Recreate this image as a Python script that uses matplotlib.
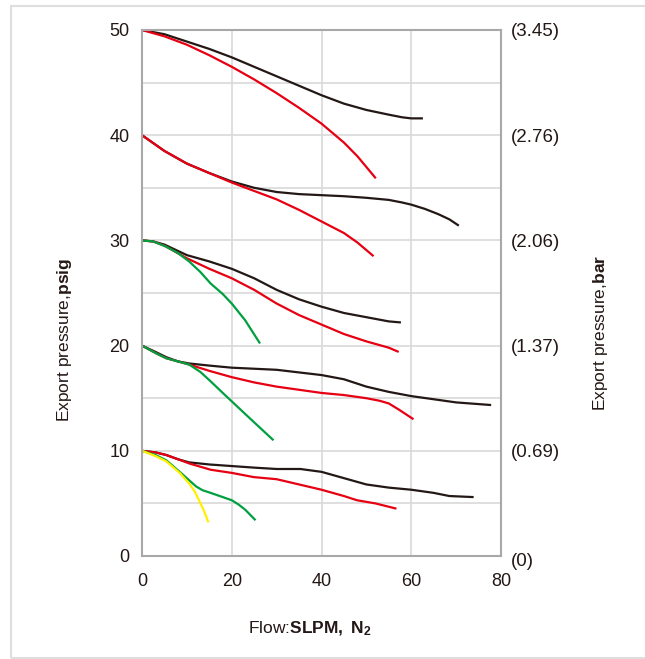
import matplotlib
matplotlib.use("Agg")
import matplotlib.pyplot as plt
from matplotlib.patches import Rectangle
from matplotlib.transforms import ScaledTranslation

plt.rcParams['font.family'] = ['Liberation Sans', 'DejaVu Sans']
plt.rcParams['mathtext.fontset'] = 'custom'
plt.rcParams['mathtext.rm'] = 'Liberation Sans'
plt.rcParams['mathtext.bf'] = 'Liberation Sans:bold'
plt.rcParams['mathtext.it'] = 'Liberation Sans:italic'

# ---- data (flow SLPM vs export pressure psig) ----
b50_x = [0, 5, 10, 15, 20, 25, 30, 35, 40, 45, 50, 55, 58, 60, 62.6]
b50_y = [50, 49.6, 48.9, 48.2, 47.4, 46.5, 45.6, 44.7, 43.8, 43.0, 42.4, 41.95, 41.7, 41.6, 41.6]
r50_x = [0, 5, 10, 15, 20, 25, 30, 35, 40, 45, 48, 52.1]
r50_y = [50, 49.4, 48.6, 47.6, 46.5, 45.3, 44.0, 42.6, 41.1, 39.3, 38.0, 35.9]

b40_x = [0, 5, 10, 15, 20, 25, 30, 35, 40, 45, 50, 55, 58, 60, 63, 66, 68.5, 70.6]
b40_y = [40, 38.5, 37.3, 36.4, 35.6, 35.0, 34.6, 34.4, 34.3, 34.2, 34.05, 33.85, 33.6, 33.4, 33.0, 32.5, 32.0, 31.4]
r40_x = [0, 5, 10, 15, 20, 25, 30, 35, 40, 45, 48, 51.6]
r40_y = [40, 38.5, 37.3, 36.4, 35.5, 34.7, 33.9, 32.9, 31.8, 30.7, 29.8, 28.5]

b30_x = [0, 2.5, 5, 7.5, 10, 15, 20, 25, 30, 35, 40, 45, 50, 55, 57.7]
b30_y = [30, 29.9, 29.6, 29.1, 28.6, 28.0, 27.3, 26.4, 25.3, 24.4, 23.7, 23.1, 22.7, 22.3, 22.2]
r30_x = [0, 2.5, 5, 7.5, 10, 15, 20, 25, 30, 35, 40, 45, 50, 55, 57.2]
r30_y = [30, 29.9, 29.5, 28.9, 28.3, 27.3, 26.4, 25.3, 24.0, 22.9, 22.0, 21.1, 20.4, 19.8, 19.4]
g30_x = [0, 2.5, 5.4, 8, 10.5, 13, 15.3, 18, 20, 23, 26.3]
g30_y = [30, 29.9, 29.4, 28.8, 28.0, 27.0, 25.9, 24.9, 24.0, 22.4, 20.2]

b20_x = [0, 3, 5.4, 8, 10.5, 15, 20, 30, 40, 45, 50, 55, 60, 65, 70, 77.8]
b20_y = [20, 19.4, 18.9, 18.5, 18.3, 18.1, 17.9, 17.7, 17.2, 16.8, 16.1, 15.6, 15.2, 14.9, 14.6, 14.35]
r20_x = [0, 3, 5.4, 8, 10.5, 15, 20, 25, 30, 35, 40, 45, 50, 53, 55, 57.3, 60.5]
r20_y = [20, 19.3, 18.8, 18.5, 18.2, 17.6, 17.0, 16.5, 16.1, 15.8, 15.5, 15.3, 15.0, 14.75, 14.5, 13.9, 13.0]
g20_x = [0, 3, 5.4, 8, 10.5, 13, 15.3, 18, 20, 24, 29.3]
g20_y = [20, 19.3, 18.8, 18.5, 18.2, 17.5, 16.6, 15.5, 14.7, 13.1, 11.0]

b10_x = [0, 3, 5.4, 8, 10.5, 15, 20, 25, 30, 35.3, 40, 45, 50, 55, 60, 65, 68.5, 73.9]
b10_y = [10, 9.85, 9.6, 9.2, 8.9, 8.7, 8.55, 8.4, 8.27, 8.27, 8.0, 7.4, 6.8, 6.5, 6.3, 6.0, 5.7, 5.6]
r10_x = [0, 3, 5.4, 8, 10.5, 15.3, 20, 24.9, 30, 35, 40, 45, 47.9, 52, 56.7]
r10_y = [10, 9.85, 9.6, 9.2, 8.8, 8.2, 7.9, 7.5, 7.3, 6.8, 6.3, 5.7, 5.3, 5.0, 4.5]
g10_x = [0, 3, 5.4, 8.4, 10.5, 12.1, 13.5, 15.3, 18, 20, 21.5, 23, 25.3]
g10_y = [10, 9.6, 9.1, 8.0, 7.2, 6.6, 6.25, 6.0, 5.6, 5.3, 4.9, 4.4, 3.4]
y10_x = [0, 3, 5.4, 8.4, 10.5, 11.8, 12.7, 13.8, 14.8]
y10_y = [10, 9.5, 9.0, 7.9, 6.9, 6.1, 5.3, 4.3, 3.2]

x_ticks = [0, 20, 40, 60, 80]
y_ticks = [0, 10, 20, 30, 40, 50]
bar_labels = ['(0)', '(0.69)', '(1.37)', '(2.06)', '(2.76)', '(3.45)']

BLACK = '#231815'
RED = '#e60012'
GREEN = '#00a040'
YELLOW = '#fff000'

W, H = 645, 659
fig = plt.figure(figsize=(W / 100, H / 100), dpi=100)
ax = fig.add_axes([142 / W, (H - 556) / H, (501 - 142) / W, (556 - 30) / H])

# figure frame
fig.patches.append(Rectangle((11 / W, 1 - 658 / H), 1.2, (658 - 6) / H,
                             transform=fig.transFigure, fill=False,
                             edgecolor='#dedede', linewidth=1.5, zorder=0))

ax.set_xlim(0, 80)
ax.set_ylim(0, 50)
ax.set_xticks(x_ticks)
ax.set_yticks(y_ticks)
ax.set_yticks([5, 15, 25, 35, 45], minor=True)
ax.grid(True, which='both', color='#d9d9d9', linewidth=1.2)
ax.set_axisbelow(True)
ax.tick_params(axis='both', which='both', length=0, labelsize=13, colors='#231815')
ax.tick_params(axis='x', pad=12)
ax.tick_params(axis='y', pad=9)
for s in ax.spines.values():
    s.set_color('#a8a8a8')
    s.set_linewidth(1.5)

lw = 1.6
for xs, ys in [(b50_x, b50_y), (b40_x, b40_y), (b30_x, b30_y), (b20_x, b20_y), (b10_x, b10_y)]:
    ax.plot(xs, ys, color=BLACK, lw=lw, solid_capstyle='butt', solid_joinstyle='round')
for xs, ys in [(r50_x, r50_y), (r40_x, r40_y), (r30_x, r30_y), (r20_x, r20_y), (r10_x, r10_y)]:
    ax.plot(xs, ys, color=RED, lw=lw, solid_capstyle='butt', solid_joinstyle='round')
for xs, ys in [(g30_x, g30_y), (g20_x, g20_y), (g10_x, g10_y)]:
    ax.plot(xs, ys, color=GREEN, lw=lw, solid_capstyle='butt', solid_joinstyle='round')
ax.plot(y10_x, y10_y, color=YELLOW, lw=lw, solid_capstyle='butt', solid_joinstyle='round')

ax2 = ax.twinx()
ax2.set_ylim(0, 50)
ax2.set_yticks(y_ticks)
ax2.set_yticklabels(bar_labels)
ax2.tick_params(axis='y', length=0, labelsize=13.5, pad=7, colors='#231815')
for s in ax2.spines.values():
    s.set_visible(False)
lbls = ax2.get_yticklabels()
lbls[0].set_transform(lbls[0].get_transform() + ScaledTranslation(0, -4 / 100, fig.dpi_scale_trans))

fig.text(65 / W, 1 - 340 / H, r'Export pressure,$\mathbf{psig}$', rotation=90,
         ha='center', va='center', fontsize=12.5, color='#231815')
fig.text(601 / W, 1 - 333 / H, r'Export pressure,$\mathbf{bar}$', rotation=90,
         ha='center', va='center', fontsize=12.5, color='#231815')
fig.text(310 / W, 1 - 629 / H, r'Flow:$\mathbf{SLPM,}$ $\mathbf{N_{2}}$',
         ha='center', va='center', fontsize=12.5, color='#231815')

fig.savefig('out.png', dpi=100)
